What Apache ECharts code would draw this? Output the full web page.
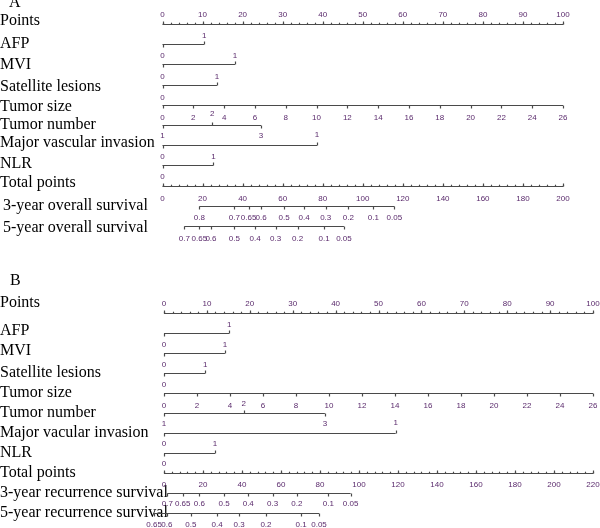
<!DOCTYPE html>
<html><head><meta charset="utf-8">
<script src="https://cdn.jsdelivr.net/npm/echarts@6/dist/echarts.min.js"></script>
<style>html,body{margin:0;padding:0;background:#fff}#c{width:600px;height:528px}</style>
</head><body><div id="c"></div>
<script>
// ================= DATA =================
// shared tick labels
const pointsLabels = [0, 10, 20, 30, 40, 50, 60, 70, 80, 90, 100];
const tumorSizeLabels = [0, 2, 4, 6, 8, 10, 12, 14, 16, 18, 20, 22, 24, 26];

// ---- Panel A: overall survival ----
const rowNamesA = ['Points', 'AFP', 'MVI', 'Satellite lesions', 'Tumor size', 'Tumor number',
  'Major vascular invasion', 'NLR', 'Total points', '3-year overall survival', '5-year overall survival'];
const totalPointsLabelsA = [0, 20, 40, 60, 80, 100, 120, 140, 160, 180, 200];
const afpPointsA = [0, 10.4];          const afpLevelsA = ['', '1'];
const mviPointsA = [0, 18.1];          const mviLevelsA = ['0', '1'];
const satPointsA = [0, 13.6];          const satLevelsA = ['0', '1'];
const tumorNumberPointsA = [0, 12.4, 24.6];
const tumorNumberLevels = ['1', '2', '3'];
const majorVascPointsA = [0, 38.6];    const majorVascLevelsA = ['', '1'];
const nlrPointsA = [0, 12.7];          const nlrLevelsA = ['0', '1'];
const os3TotalA = [18.4, 35.9, 43.0, 49.2, 60.7, 70.7, 81.5, 92.8, 105.3, 115.8];
const os3ProbA = ['0.8', '0.7', '0.65', '0.6', '0.5', '0.4', '0.3', '0.2', '0.1', '0.05'];
const os5TotalA = [10.9, 18.4, 24.2, 35.9, 46.2, 56.5, 67.5, 80.7, 90.6];
const os5ProbA = ['0.7', '0.65', '0.6', '0.5', '0.4', '0.3', '0.2', '0.1', '0.05'];

// ---- Panel B: recurrence ----
const rowNamesB = ['Points', 'AFP', 'MVI', 'Satellite lesions', 'Tumor size', 'Tumor number',
  'Major vacular invasion', 'NLR', 'Total points', '3-year recurrence survival', '5-year recurrence survival'];
const totalPointsLabelsB = [0, 20, 40, 60, 80, 100, 120, 140, 160, 180, 200, 220];
const afpPointsB = [0, 15.2];          const afpLevelsB = ['', '1'];
const mviPointsB = [0, 14.2];          const mviLevelsB = ['0', '1'];
const satPointsB = [0, 9.6];           const satLevelsB = ['0', '1'];
const tumorNumberPointsB = [0, 18.6, 37.5];
const majorVascPointsB = [0, 54.0];    const majorVascLevelsB = ['', '1'];
const nlrPointsB = [0, 11.9];          const nlrLevelsB = ['0', '1'];
const rs3TotalB = [1.7, 9.6, 18.1, 30.8, 43.2, 55.7, 68.1, 84.3, 95.7];
const rs3ProbB = ['0.7', '0.65', '0.6', '0.5', '0.4', '0.3', '0.2', '0.1', '0.05'];
const rs5TotalB = [-5.1, 1.5, 13.8, 27.2, 38.5, 52.3, 70.3, 79.5];
const rs5ProbB = ['0.65', '0.6', '0.5', '0.4', '0.3', '0.2', '0.1', '0.05'];

// ================= STYLE =================
const TICK = 3, MINOR = 1.8;
const LABEL_FONT = '8px "Liberation Sans", Arial, sans-serif';
const LABEL_COLOR = '#5a2a6c';
const LINE_COLOR = '#4a4a4a';
const NAME_FONT = 'Liberation Serif';

function rangeStep(a, b, s) { const r = []; for (let v = a; v <= b + 1e-9; v += s) r.push(v); return r; }

function axisSpec(ticks, labels, dir, dy, minorStep, extra) {
  return { ticks, labels: labels.map(String), dirs: ticks.map(() => dir), dys: ticks.map(() => dy),
    minor: minorStep ? rangeStep(ticks[0], ticks[ticks.length - 1], minorStep) : [], extra: extra || [] };
}
function factorSpec(pts, labels, dy) {
  return { ticks: pts, labels, dirs: pts.map((_, i) => i === 0 ? 1 : -1), dys: pts.map(() => dy), minor: [], extra: [] };
}
function numberSpec(pts, labels, upDy) {
  return { ticks: pts, labels, dirs: [1, -1, 1], dys: [10, upDy, 10], minor: [], extra: [] };
}
function survSpec(tot, probs, dy) {
  return { ticks: tot, labels: probs, dirs: tot.map(() => 1), dys: tot.map(() => dy), minor: [], extra: [] };
}

function makeRow(gridIdx, xAxisIdx, rowIdx, spec) {
  return {
    type: 'custom', xAxisIndex: xAxisIdx, yAxisIndex: gridIdx, silent: true, clip: false,
    data: [[spec.ticks[0], rowIdx]],
    renderItem: function (params, api) {
      const y = Math.round(api.coord([spec.ticks[0], rowIdx])[1]) + 0.5;
      const px = v => api.coord([v, rowIdx])[0];
      const xs = spec.ticks.map(px);
      const ln = (x1, y1, x2, y2) => ({ type: 'line', shape: { x1, y1, x2, y2 }, style: { stroke: LINE_COLOR, lineWidth: 1.2 } });
      const tx = (x, yy, t) => ({ type: 'text', x, y: yy, style: { text: t, font: LABEL_FONT, fill: LABEL_COLOR, align: 'center', verticalAlign: 'middle' } });
      const ch = [ln(Math.min(...xs), y, Math.max(...xs), y)];
      spec.minor.forEach(v => { const x = Math.round(px(v)) + 0.5; ch.push(ln(x, y, x, y - MINOR)); });
      xs.forEach((x0, i) => {
        const x = Math.round(x0) + 0.5;
        ch.push(ln(x, y, x, y + spec.dirs[i] * TICK));
        if (spec.labels[i]) ch.push(tx(x0, y + spec.dys[i], spec.labels[i]));
      });
      spec.extra.forEach(e => ch.push(tx(px(e.v), y + e.dy, e.text)));
      return { type: 'group', children: ch };
    }
  };
}

// row-name labels; vertical nudges done with an empty extra line (shift = lineHeight/2)
function yAxisFor(gridIdx, names, margin, shifts, indents) {
  const base = { align: 'left', fontFamily: NAME_FONT, fontSize: 16, color: '#000' };
  return {
    type: 'category', gridIndex: gridIdx, inverse: true, boundaryGap: true,
    data: names.map((n, i) => {
      const s = shifts[i] || 0, ind = indents[i] || 0;
      if (!s && !ind) return n;
      const text = s < 0 ? n + '\n' : (s > 0 ? '\n' + n : n);
      const st = Object.assign({}, base);
      if (s) st.lineHeight = Math.abs(s) * 2;
      if (ind) st.padding = [0, 0, 0, ind];
      return { value: text, textStyle: st };
    }),
    axisLine: { show: false }, axisTick: { show: false }, splitLine: { show: false },
    axisLabel: Object.assign({ interval: 0, margin: margin, hideOverlap: false }, base)
  };
}

const LA = 162.5, LB = 164;
const option = {
  animation: false,
  backgroundColor: '#fff',
  title: [
    { text: 'A', left: 9, top: -5, padding: 0, textStyle: { fontFamily: NAME_FONT, fontSize: 16, fontWeight: 'normal', color: '#000' } },
    { text: 'B', left: 10, top: 273, padding: 0, textStyle: { fontFamily: NAME_FONT, fontSize: 16, fontWeight: 'normal', color: '#000' } }
  ],
  grid: [
    { left: LA, right: 37, top: 13.9, height: 222.2, containLabel: false, outerBoundsMode: 'none' },
    { left: LB, right: 7, top: 303, height: 220, containLabel: false, outerBoundsMode: 'none' }
  ],
  xAxis: [
    { gridIndex: 0, type: 'value', min: 0, max: 100, show: false },
    { gridIndex: 0, type: 'value', min: 0, max: 26, show: false },
    { gridIndex: 0, type: 'value', min: 0, max: 200, show: false },
    { gridIndex: 1, type: 'value', min: 0, max: 100, show: false },
    { gridIndex: 1, type: 'value', min: 0, max: 26, show: false },
    { gridIndex: 1, type: 'value', min: 0, max: 220, show: false }
  ],
  yAxis: [
    yAxisFor(0, rowNamesA, LA, { 0: -3, 3: 2, 4: 2, 6: -2, 7: -2, 8: -3, 10: 2 }, { 9: 3, 10: 3 }),
    yAxisFor(1, rowNamesB, LB, { 0: -10, 1: -2, 2: -2 }, {})
  ],
  series: [
    // Panel A
    makeRow(0, 0, 0, axisSpec(pointsLabels, pointsLabels, -1, -10, 2)),
    makeRow(0, 0, 1, factorSpec(afpPointsA, afpLevelsA, -9)),
    makeRow(0, 0, 2, factorSpec(mviPointsA, mviLevelsA, -9)),
    makeRow(0, 0, 3, factorSpec(satPointsA, satLevelsA, -9)),
    makeRow(0, 1, 4, axisSpec(tumorSizeLabels, tumorSizeLabels, 1, 12, 0, [{ v: 0, text: '0', dy: -8 }])),
    makeRow(0, 0, 5, numberSpec(tumorNumberPointsA, tumorNumberLevels, -12)),
    makeRow(0, 0, 6, factorSpec(majorVascPointsA, majorVascLevelsA, -11)),
    makeRow(0, 0, 7, factorSpec(nlrPointsA, nlrLevelsA, -9)),
    makeRow(0, 2, 8, axisSpec(totalPointsLabelsA, totalPointsLabelsA, -1, 12, 4, [{ v: 0, text: '0', dy: -10 }])),
    makeRow(0, 2, 9, survSpec(os3TotalA, os3ProbA, 11)),
    makeRow(0, 2, 10, survSpec(os5TotalA, os5ProbA, 12)),
    // Panel B
    makeRow(1, 3, 0, axisSpec(pointsLabels, pointsLabels, -1, -10, 2)),
    makeRow(1, 3, 1, factorSpec(afpPointsB, afpLevelsB, -9)),
    makeRow(1, 3, 2, factorSpec(mviPointsB, mviLevelsB, -9)),
    makeRow(1, 3, 3, factorSpec(satPointsB, satLevelsB, -9)),
    makeRow(1, 4, 4, axisSpec(tumorSizeLabels, tumorSizeLabels, 1, 12, 0, [{ v: 0, text: '0', dy: -9 }])),
    makeRow(1, 3, 5, numberSpec(tumorNumberPointsB, tumorNumberLevels, -10)),
    makeRow(1, 3, 6, factorSpec(majorVascPointsB, majorVascLevelsB, -11)),
    makeRow(1, 3, 7, factorSpec(nlrPointsB, nlrLevelsB, -10)),
    makeRow(1, 5, 8, axisSpec(totalPointsLabelsB, totalPointsLabelsB, -1, 11, 4, [{ v: 0, text: '0', dy: -10 }])),
    makeRow(1, 5, 9, survSpec(rs3TotalB, rs3ProbB, 10)),
    makeRow(1, 5, 10, survSpec(rs5TotalB, rs5ProbB, 11))
  ]
};
const chart = echarts.init(document.getElementById('c'), null, { renderer: 'canvas' });
chart.setOption(option);
</script>
</body></html>
